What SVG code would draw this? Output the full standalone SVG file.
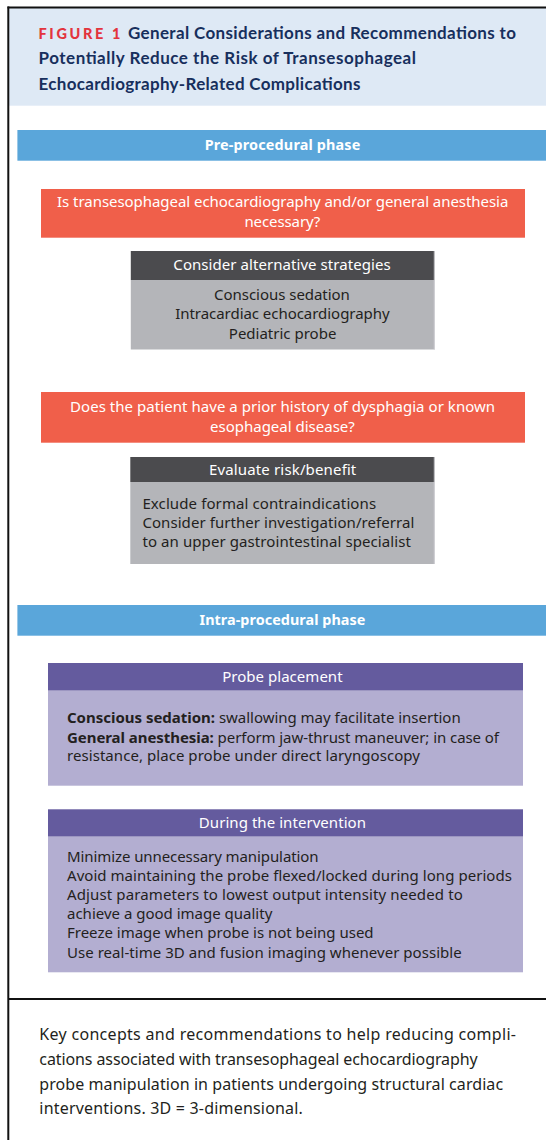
<svg xmlns="http://www.w3.org/2000/svg" width="546" height="1140" viewBox="0 0 546 1140">
  <style>
    .title { font-family: Lato, "Liberation Sans", sans-serif; font-weight: 700; font-size: 17px; fill: #172f5d; }
    .fig { font-family: Lato, "Liberation Sans", sans-serif; font-weight: 900; font-size: 14.5px; fill: #e3343d; }
    .band { fill: #5aa6da; }
    .bandtxt { font-family: "Noto Sans", "Open Sans", sans-serif; font-weight: 700; font-size: 14.4px; fill: #ffffff; text-anchor: middle; }
    .q { fill: #f05f4a; }
    .qtxt { font-family: "Noto Sans", "Open Sans", sans-serif; font-size: 15px; fill: #ffffff; text-anchor: middle; }
    .ghead { fill: #4b4b4e; }
    .gbody { fill: #b4b5b9; }
    .phead { fill: #645b9e; }
    .pbody { fill: #b3aed1; }
    .htxt { font-family: "Noto Sans", "Open Sans", sans-serif; font-size: 15px; fill: #ffffff; text-anchor: middle; }
    .btxt { font-family: "Noto Sans", "Open Sans", sans-serif; font-size: 15px; fill: #231f20; }
    .mid { text-anchor: middle; }
    .b { font-weight: 700; }
    .cap { font-family: "Noto Sans", "Open Sans", sans-serif; font-size: 16px; fill: #231f20; }
  </style>

  <rect x="0" y="0" width="546" height="1140" fill="#ffffff"/>

  <!-- figure frame -->
  <g id="frame">
    <rect x="9" y="8" width="537" height="97.7" fill="#dee9f5"/>
    <line x1="7.5" y1="7.5" x2="546" y2="7.5" stroke="#111" stroke-width="2"/>
    <line x1="8.3" y1="6.5" x2="8.3" y2="1140" stroke="#111" stroke-width="2"/>
    <line x1="8" y1="999" x2="546" y2="999" stroke="#111" stroke-width="2"/>
  </g>

  <!-- heading -->
  <g id="heading">
    <text class="fig" x="38.5" y="39" textLength="82">FIGURE 1</text>
    <text class="title" x="128" y="39" textLength="388">General Considerations and Recommendations to</text>
    <text class="title" x="38.5" y="64.3" textLength="377.5">Potentially Reduce the Risk of Transesophageal</text>
    <text class="title" x="38.5" y="89.7" textLength="322">Echocardiography-Related Complications</text>
  </g>

  <!-- pre-procedural phase -->
  <g id="pre-phase">
    <rect class="band" x="17.4" y="130" width="528.6" height="30.7"/>
    <text class="bandtxt" x="282.5" y="150.3" textLength="155.7">Pre-procedural phase</text>
  </g>

  <g id="question-tee">
    <rect class="q" x="41" y="189" width="484" height="48.7"/>
    <text class="qtxt" x="282.7" y="207" textLength="451.3">Is transesophageal echocardiography and/or general anesthesia</text>
    <text class="qtxt" x="282.4" y="227" textLength="75.9">necessary?</text>
  </g>

  <g id="alternatives">
    <rect class="ghead" x="130.8" y="251" width="304" height="29"/>
    <rect class="gbody" x="130.8" y="280" width="304" height="69.5"/>
    <line x1="434.3" y1="251" x2="434.3" y2="349.5" stroke="#d2d3d6" stroke-width="1"/>
    <text class="htxt" x="282" y="269.5" textLength="217.3">Consider alternative strategies</text>
    <text class="btxt mid" x="282" y="299.5" textLength="135.8">Conscious sedation</text>
    <text class="btxt mid" x="282.4" y="319" textLength="214.5">Intracardiac echocardiography</text>
    <text class="btxt mid" x="282.6" y="338.5" textLength="107.6">Pediatric probe</text>
  </g>

  <g id="question-dysphagia">
    <rect class="q" x="41" y="392" width="484" height="50.7"/>
    <text class="qtxt" x="282.6" y="411.5" textLength="425.1">Does the patient have a prior history of dysphagia or known</text>
    <text class="qtxt" x="282.4" y="431.5" textLength="144.8">esophageal disease?</text>
  </g>

  <g id="risk-benefit">
    <rect class="ghead" x="130.3" y="457" width="304.5" height="25"/>
    <rect class="gbody" x="130.3" y="482" width="304.5" height="82"/>
    <line x1="434.3" y1="457" x2="434.3" y2="564" stroke="#d2d3d6" stroke-width="1"/>
    <text class="htxt" x="282.6" y="475" textLength="147.3">Evaluate risk/benefit</text>
    <text class="btxt" x="142.4" y="508.5" textLength="233.7">Exclude formal contraindications</text>
    <text class="btxt" x="142.4" y="527.5" textLength="272">Consider further investigation/referral</text>
    <text class="btxt" x="142.4" y="546.5" textLength="268.5">to an upper gastrointestinal specialist</text>
  </g>

  <!-- intra-procedural phase -->
  <g id="intra-phase">
    <rect class="band" x="17.4" y="605" width="528.6" height="30.7"/>
    <text class="bandtxt" x="282.4" y="625.3" textLength="165.8">Intra-procedural phase</text>
  </g>

  <g id="probe-placement">
    <rect class="phead" x="48" y="663" width="475" height="27.7"/>
    <rect class="pbody" x="48" y="690.7" width="475" height="95"/>
    <text class="htxt" x="282.4" y="681.5" textLength="120.4">Probe placement</text>
    <text class="btxt" x="67" y="723.3" textLength="393.7"><tspan class="b">Conscious sedation:</tspan> swallowing may facilitate insertion</text>
    <text class="btxt" x="67" y="742.5" textLength="432"><tspan class="b">General anesthesia:</tspan> perform jaw-thrust maneuver; in case of</text>
    <text class="btxt" x="67" y="761.3" textLength="352.9">resistance, place probe under direct laryngoscopy</text>
  </g>

  <g id="during-intervention">
    <rect class="phead" x="48" y="809.3" width="475" height="27.4"/>
    <rect class="pbody" x="48" y="836.7" width="475" height="135.6"/>
    <text class="htxt" x="282.4" y="827.7" textLength="167.2">During the intervention</text>
    <text class="btxt" x="67" y="861.5" textLength="251.6">Minimize unnecessary manipulation</text>
    <text class="btxt" x="67" y="880.5" textLength="444.9">Avoid maintaining the probe flexed/locked during long periods</text>
    <text class="btxt" x="67" y="899.6" textLength="395.8">Adjust parameters to lowest output intensity needed to</text>
    <text class="btxt" x="67" y="918.6" textLength="205.3">achieve a good image quality</text>
    <text class="btxt" x="67" y="937.7" textLength="306.6">Freeze image when probe is not being used</text>
    <text class="btxt" x="67" y="957.5" textLength="394.7">Use real-time 3D and fusion imaging whenever possible</text>
  </g>

  <!-- legend -->
  <g id="caption">
    <text class="cap" x="39.3" y="1040" textLength="476.7">Key concepts and recommendations to help reducing compli-</text>
    <text class="cap" x="39.3" y="1064.8" textLength="438.4">cations associated with transesophageal echocardiography</text>
    <text class="cap" x="39.3" y="1089.5" textLength="463.8">probe manipulation in patients undergoing structural cardiac</text>
    <text class="cap" x="39.3" y="1114.3" textLength="263.6">interventions. 3D = 3-dimensional.</text>
  </g>
</svg>
